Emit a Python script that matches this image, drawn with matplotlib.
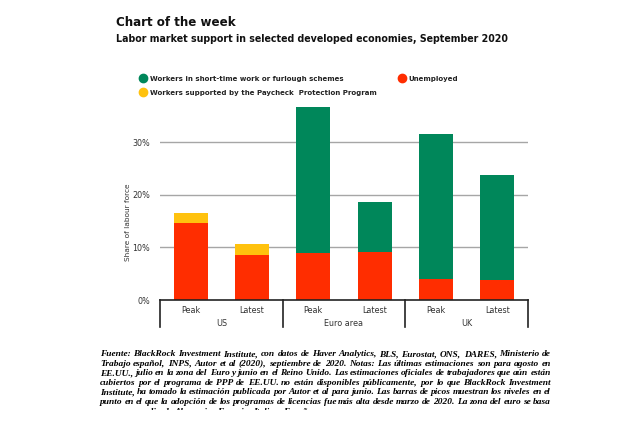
import matplotlib
matplotlib.use("Agg")
import matplotlib.pyplot as plt
from matplotlib.lines import Line2D
from matplotlib.patches import Rectangle
import matplotlib.transforms as mtransforms

# ---- data ----
bar_labels = ["Peak", "Latest", "Peak", "Latest", "Peak", "Latest"]
groups = ["US", "Euro area", "UK"]
unemployed = [14.6, 8.5, 9.0, 9.2, 3.9, 3.8]
furlough = [0.0, 0.0, 27.6, 9.45, 27.7, 19.9]
ppp = [1.85, 2.1, 0.0, 0.0, 0.0, 0.0]
yticks = [0, 10, 20, 30]
ytick_labels = ["0%", "10%", "20%", "30%"]

title = "Chart of the week"
subtitle = "Labor market support in selected developed economies, September 2020"
legend_labels = ["Workers in short-time work or furlough schemes",
                 "Workers supported by the Paycheck  Protection Program",
                 "Unemployed"]
ylabel = "Share of labour force"
footnote = [
    "Fuente: BlackRock Investment Institute, con datos de Haver Analytics, BLS, Eurostat, ONS, DARES, Ministerio de",
    "Trabajo español, INPS, Autor et al (2020), septiembre de 2020. Notas: Las últimas estimaciones son para agosto en",
    "EE.UU., julio en la zona del Euro y junio en el Reino Unido. Las estimaciones oficiales de trabajadores que aún están",
    "cubiertos por el programa de PPP de EE.UU. no están disponibles públicamente, por lo que BlackRock Investment",
    "Institute, ha tomado la estimación publicada por Autor et al para junio. Las barras de picos muestran los niveles en el",
    "punto en el que la adopción de los programas de licencias fue más alta desde marzo de 2020. La zona del euro se basa",
    "en un promedio de Alemania, Francia, Italia y España.",
]

GREEN = "#00875A"
RED = "#FF2D00"
YELLOW = "#FFC20E"
GRID = "#a6a6a6"
TXT = "#333333"

W, H = 638, 426
fig = plt.figure(figsize=(W / 100, H / 100), dpi=100)
fig.patch.set_facecolor("white")
renderer = fig.canvas.get_renderer()


def fit(t, target_px):
    w = t.get_window_extent(renderer).width
    t.set_fontsize(t.get_fontsize() * target_px / w)


ax = fig.add_axes([160 / W, 1 - 300 / H, 368 / W, 200 / H])
x = list(range(len(bar_labels)))
bw = 0.555
ax.bar(x, unemployed, bw, color=RED, zorder=3)
ax.bar(x, furlough, bw, bottom=unemployed, color=GREEN, zorder=3)
ax.bar(x, ppp, bw, bottom=unemployed, color=YELLOW, zorder=3)

ax.set_xlim(-0.5, 5.5)
ax.set_ylim(0, 38)
for s in ax.spines.values():
    s.set_visible(False)
ax.spines["bottom"].set_visible(True)
ax.spines["bottom"].set_color("#222222")
ax.spines["bottom"].set_linewidth(1.2)
ax.spines["bottom"].set_zorder(4)

for t in yticks[1:]:
    ax.axhline(t, color=GRID, lw=1.0, zorder=1)
ax.set_yticks(yticks)
ax.set_yticklabels(ytick_labels)
ax.tick_params(axis="y", length=0, pad=7, labelsize=5.8, labelcolor=TXT)
ax.set_xticks(x)
ax.set_xticklabels(bar_labels)
ax.tick_params(axis="x", length=0, pad=4, labelsize=5.8, labelcolor=TXT)

# group separators and labels
trans = mtransforms.blended_transform_factory(ax.transData, ax.transAxes)
for b in [-0.5, 1.5, 3.5, 5.5]:
    ax.plot([b, b], [0, -27 / 200], color="#222222", lw=1.2, transform=trans, clip_on=False)
for i, g in enumerate(groups):
    ax.text(2 * i + 0.5, -24 / 200, g, transform=trans, ha="center", va="center",
            fontsize=5.8, color=TXT)

fig.text(128 / W, 1 - 222 / H, ylabel, rotation=90, ha="center", va="center",
         fontsize=5.3, color=TXT)

# titles
tt = fig.text(116 / W, 1 - 23 / H, title, fontsize=10, fontweight="bold",
              family="DejaVu Sans", ha="left", va="center", color="#111111")
fit(tt, 120)
st = fig.text(116 / W, 1 - 39.5 / H, subtitle, fontsize=7, fontweight="bold",
              family="DejaVu Sans", ha="left", va="center", color="#111111")
fit(st, 397)

# legend
handles = [Line2D([], [], marker="o", ls="", ms=6, mfc=GREEN, mec=GREEN),
           Line2D([], [], marker="o", ls="", ms=6, mfc=YELLOW, mec=YELLOW),
           Line2D([], [], marker="o", ls="", ms=6, mfc=RED, mec=RED)]
probe = fig.text(0, 0, legend_labels[0], fontsize=6, fontweight="bold", family="DejaVu Sans")
fit(probe, 195)
lsize = probe.get_fontsize()
probe.remove()
leg = fig.legend(handles, legend_labels, ncol=2, loc="upper left",
                 bbox_to_anchor=(140 / W, 1 - 75.5 / H), frameon=False,
                 prop={"family": "DejaVu Sans", "weight": "bold", "size": lsize},
                 handlelength=0.9, handletextpad=0.45, columnspacing=3.2,
                 labelspacing=1.2, borderaxespad=0, borderpad=0)
for t in leg.get_texts():
    t.set_color("#222222")

# footnote, justified
x0, x1 = 100, 551
fkw = dict(family="Liberation Serif", style="italic", weight="bold", fontsize=7.0,
           color="#000000", va="center", ha="left")
widest = 0
for line in footnote[:-1]:
    p = fig.text(0, 0, line, **fkw)
    widest = max(widest, p.get_window_extent(renderer).width)
    p.remove()
fkw["fontsize"] = 7.0 * (x1 - x0) / widest * 1.02

p1 = fig.text(0, 0, "a a", **fkw)
p2 = fig.text(0, 0, "aa", **fkw)
sw = p1.get_window_extent(renderer).width - p2.get_window_extent(renderer).width
p1.remove()
p2.remove()
for i, line in enumerate(footnote):
    y = 1 - (354 + 9.6 * i) / H
    words = line.split()
    texts = [fig.text(0, y, w, **fkw) for w in words]
    widths = [t.get_window_extent(renderer).width for t in texts]
    if i < len(footnote) - 1:
        gap = (x1 - x0 - sum(widths)) / (len(words) - 1)
    else:
        gap = sw
    xx = x0
    for t, w in zip(texts, widths):
        t.set_position((xx / W, y))
        xx += w + gap

fig.patches.append(Rectangle((0, 0), 1, 1 - 410 / H, transform=fig.transFigure,
                             facecolor="white", edgecolor="none", zorder=10))

fig.savefig("out.png", dpi=100, facecolor="white")
